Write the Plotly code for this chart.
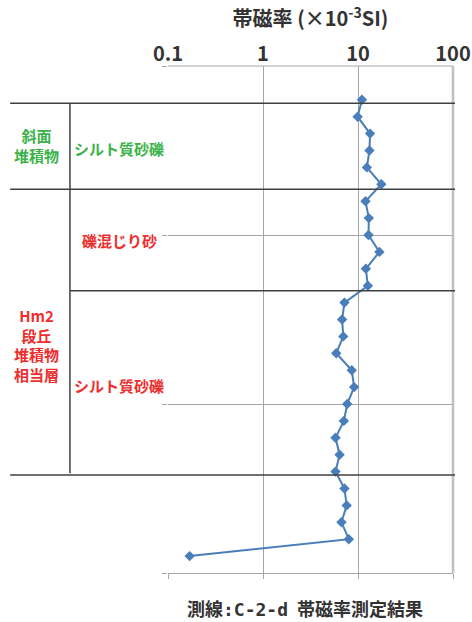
import plotly.graph_objects as go

# Magnetic susceptibility (x10^-3 SI) vs. depth (m) along survey line C-2-d
depth = [0.2, 0.3, 0.4, 0.5, 0.6, 0.7, 0.8, 0.9, 1.0, 1.1, 1.2, 1.3, 1.4, 1.5,
         1.6, 1.7, 1.8, 1.9, 2.0, 2.1, 2.2, 2.3, 2.4, 2.5, 2.6, 2.7, 2.8, 2.9]
susceptibility = [11.0, 9.9, 13.4, 13.2, 12.4, 17.6, 12.0, 13.0, 12.9, 16.8,
                  12.1, 12.7, 7.2, 6.8, 7.0, 5.9, 8.6, 9.1, 7.7, 7.1, 5.8,
                  6.4, 5.8, 7.2, 7.6, 6.7, 8.0, 0.169]

x_ticks = [0.1, 1, 10, 100]
x_tick_text = ["0.1", "1", "10", "100"]

# Stratigraphic column: boundaries (depth) and labels
layer_bounds = [0.22, 0.73, 1.33, 2.42]
unit_labels = ["斜面<br>堆積物", "Hm2<br>段丘<br>堆積物<br>相当層"]
unit_depths = [0.47, 1.65]
unit_colors = ["#3cb34a", "#ee2d2d"]
facies_labels = ["シルト質砂礫", "礫混じり砂", "シルト質砂礫"]
facies_depths = [0.49, 1.03, 1.89]
facies_colors = ["#3cb34a", "#ee2d2d", "#ee2d2d"]

GRID = "#a6a6a6"
DARK = "#404040"
BLUE = "#4a7ebb"
JP = "Noto Sans CJK JP"

fig = go.Figure()
fig.add_trace(go.Scatter(
    x=susceptibility, y=depth, mode="lines+markers",
    line=dict(color=BLUE, width=2),
    marker=dict(symbol="diamond", size=8, color=BLUE),
    showlegend=False, hoverinfo="skip",
))
# invisible trace carrying the bottom tick axis
fig.add_trace(go.Scatter(x=[1], y=[1], xaxis="x2", mode="markers",
                         marker=dict(opacity=0), showlegend=False,
                         hoverinfo="skip"))

fig.update_layout(
    width=472, height=622,
    margin=dict(l=168, r=19, t=66, b=49, autoexpand=False),
    paper_bgcolor="white", plot_bgcolor="white",
    font=dict(family=JP, color="#333333"),
    xaxis=dict(type="log", range=[-1, 2], side="top", automargin=False,
               tickvals=x_ticks, ticktext=x_tick_text, ticks="",
               tickfont=dict(size=20, family=JP, color="#333333", weight="bold"),
               showgrid=True, gridcolor=GRID, gridwidth=1,
               showline=False, zeroline=False),
    xaxis2=dict(type="log", range=[-1, 2], overlaying="x", side="bottom",
                automargin=False,
                tickvals=x_ticks, showticklabels=False,
                ticks="outside", ticklen=5, tickcolor=GRID,
                showgrid=False, showline=True, linecolor=GRID, linewidth=1,
                zeroline=False),
    yaxis=dict(range=[3, 0], dtick=1, showticklabels=False, automargin=False,
               ticks="outside", ticklen=5, tickcolor=GRID,
               showgrid=True, gridcolor=GRID, gridwidth=1,
               zeroline=False, showline=False),
    title=dict(text="帯磁率 (×10<sup>-3</sup>SI)", x=0.5, xref="paper",
               y=1 - 19 / 622, yanchor="middle",
               font=dict(size=20, family=JP, color="#333333", weight="bold")),
)

shapes = []
# right frame
shapes.append(dict(type="line", xref="paper", yref="paper", x0=1, x1=1,
                   y0=0, y1=1, line=dict(color="#c0c0c0", width=2.5)))
# top frame
shapes.append(dict(type="line", xref="paper", yref="paper", x0=0, x1=1,
                   y0=1, y1=1, line=dict(color=GRID, width=1)))
# layer boundaries across the column and plot
for i, b in enumerate(layer_bounds):
    x0 = -0.344 if i == 2 else -0.554
    shapes.append(dict(type="line", xref="paper", yref="y", x0=x0, x1=1.007,
                       y0=b, y1=b, line=dict(color=DARK, width=1.5)))
# column divider
shapes.append(dict(type="line", xref="paper", yref="y", x0=-0.344, x1=-0.344,
                   y0=layer_bounds[0], y1=layer_bounds[-1] - 0.01,
                   line=dict(color=DARK, width=1.5)))
fig.update_layout(shapes=shapes)

ann = []
for t, d, c in zip(unit_labels, unit_depths, unit_colors):
    ann.append(dict(text=t, xref="paper", yref="y", x=-0.46, y=d,
                    showarrow=False, xanchor="center", yanchor="middle",
                    font=dict(size=15, color=c, family=JP, weight="bold")))
for t, d, c in zip(facies_labels, facies_depths, facies_colors):
    ann.append(dict(text=t, xref="paper", yref="y", x=-0.171, y=d,
                    showarrow=False, xanchor="center", yanchor="middle",
                    font=dict(size=15, color=c, family=JP, weight="bold")))
ann.append(dict(
    text=("測線<span style='font-family:DejaVu Sans Mono'>:C-2-d</span>"
          "\u2002帯磁率測定結果"),
    xref="paper", yref="paper", x=0.48, y=-0.069, showarrow=False,
    xanchor="center", yanchor="middle",
    font=dict(size=18, color="#333333", family=JP, weight="bold")))
fig.update_layout(annotations=ann)

fig.write_html("out.html")
